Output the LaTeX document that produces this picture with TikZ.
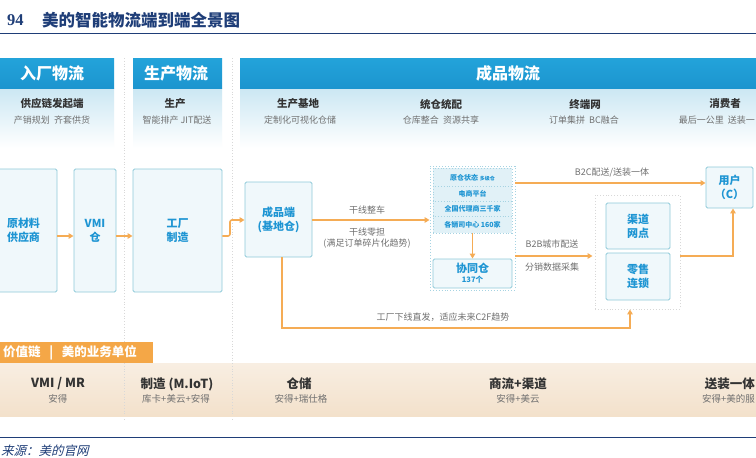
\documentclass[tikz,border=0pt]{standalone}
\usepackage{fontspec}
\setmainfont{Noto Sans CJK SC}
\newfontfamily\titleserif{Liberation Serif}
\newfontfamily\srcfont[FakeSlant=0.25]{Noto Sans CJK SC}
\usetikzlibrary{arrows.meta}
\definecolor{banner}{HTML}{23A3DA}
\definecolor{bannerdk}{HTML}{1C95CF}
\definecolor{skyl}{HTML}{CBE7F3}
\definecolor{boxline}{HTML}{8FCAD9}
\definecolor{boxfill}{HTML}{F0F8FB}
\definecolor{boxtext}{HTML}{1E95D3}
\definecolor{arr}{HTML}{F5AC55}
\definecolor{navy}{HTML}{1F3E78}
\definecolor{darktext}{HTML}{333333}
\definecolor{greytext}{HTML}{707070}
\definecolor{tabc}{HTML}{F4A747}
\definecolor{beigeA}{HTML}{F8EEE2}
\definecolor{beigeB}{HTML}{F3E1CB}
\definecolor{divider}{HTML}{D8D8D8}
\definecolor{dotline}{HTML}{A6D3E2}
\definecolor{innerfill}{HTML}{E1F1F7}
\begin{document}
\begin{tikzpicture}[x=1pt,y=-1pt,
  flowbox/.style={draw=boxline, fill=boxfill, line width=0.9pt, rounded corners=1.5pt, inner sep=0pt, align=center, text=boxtext, font=\fontsize{11}{14}\selectfont\bfseries},
  dotbox/.style={draw=dotline, line width=0.9pt, dotted, inner sep=0pt},
  flow/.style={draw=arr, line width=1.6pt, -{Triangle[length=5pt,width=5.5pt]}},
  bantext/.style={text=white, font=\fontsize{16}{18}\selectfont\bfseries, inner sep=0pt},
  headtext/.style={text=darktext, font=\fontsize{10.5}{12}\selectfont\bfseries, inner sep=0pt},
  subtext/.style={text=greytext, font=\fontsize{9}{11}\selectfont, inner sep=0pt},
  note/.style={text=greytext, font=\fontsize{9}{12}\selectfont, inner sep=0pt, align=center},
  rowtext/.style={text=boxtext, font=\fontsize{7}{8}\selectfont\bfseries, inner sep=0pt},
  vchead/.style={text=darktext, font=\fontsize{12.5}{14}\selectfont\bfseries, inner sep=0pt},
  vcsub/.style={text=greytext, font=\fontsize{9.5}{11}\selectfont, inner sep=0pt}
]
\useasboundingbox (0,0) rectangle (756,458);
\fill[white] (0,0) rectangle (756,458);

% ---------- title ----------
\node[anchor=west, inner sep=0pt, text=navy, font=\titleserif\fontsize{16.5}{17}\selectfont\bfseries] (tnum) at (7,20) {94};
\node[anchor=west, inner sep=0pt, text=navy, font=\fontsize{16.5}{17}\selectfont\bfseries] (ttl) at (42,20) {美的智能物流端到端全景图};
\draw[navy, line width=1.4pt] (0,33.5) -- (756,33.5);

% ---------- banner backgrounds ----------
\shade[top color=skyl, bottom color=white] (-5,88) rectangle (114,148);
\shade[top color=skyl, bottom color=white] (133,88) rectangle (222,148);
\shade[top color=skyl, bottom color=white] (240,88) rectangle (760,148);
\shade[top color=banner, bottom color=bannerdk] (-5,58) rectangle (114,88);
\shade[top color=banner, bottom color=bannerdk] (133,58) rectangle (222,88);
\shade[top color=banner, bottom color=bannerdk] (240,58) rectangle (760,88);
\node[bantext] (b1) at (52,73) {入厂物流};
\node[bantext] (b2) at (176,73) {生产物流};
\node[bantext] (b3) at (508,73) {成品物流};

% dividers
\draw[divider, dotted, line width=0.8pt] (124.5,58) -- (124.5,420);
\draw[divider, dotted, line width=0.8pt] (232.5,58) -- (232.5,420);

% ---------- sub headings ----------
\node[headtext] (h1) at (52,104) {供应链发起端};
\node[subtext]  (s1) at (52,120) {产销规划\ \ 齐套供货};
\node[headtext] (h2) at (175,104) {生产};
\node[subtext]  (s2) at (177,120) {智能排产 JIT配送};
\node[headtext] (h3) at (298,104) {生产基地};
\node[subtext]  (s3) at (300,120) {定制化可视化仓储};
\node[headtext] (h4) at (441,104) {统仓统配};
\node[subtext]  (s4) at (441,120) {仓库整合\ \ 资源共享};
\node[headtext] (h5) at (585,104) {终端网};
\node[subtext]  (s5) at (584,120) {订单集拼\ \ BC融合};
\node[headtext] (h6) at (725,104) {消费者};
\node[subtext, anchor=east] (s6) at (755,120) {最后一公里\ \ 送装一};

% ---------- flow boxes ----------
\node[flowbox, minimum width=67pt, minimum height=123pt] (raw) at (23.5,230.5) {原材料\\供应商};
\node[flowbox, minimum width=42pt, minimum height=123pt] (vmi) at (95,230.5) {VMI\\仓};
\node[flowbox, minimum width=89pt, minimum height=123pt] (fac) at (177.5,230.5) {工厂\\制造};
\node[flowbox, minimum width=67pt, minimum height=75pt] (fp) at (278.5,219.5) {成品端\\(基地仓)};

% cluster
\node[dotbox, minimum width=85pt, minimum height=124pt] (cluster) at (472.5,228) {};
\node[dotbox, fill=innerfill, minimum width=79pt, minimum height=65pt] (inner) at (472.5,200.5) {};
\draw[dotline, dotted, line width=0.8pt] (inner.west |- 0,186) -- (inner.east |- 0,186);
\draw[dotline, dotted, line width=0.8pt] (inner.west |- 0,201) -- (inner.east |- 0,201);
\draw[dotline, dotted, line width=0.8pt] (inner.west |- 0,216) -- (inner.east |- 0,216);
\node[rowtext] (r1) at (472.5,178) {原仓状态\ {\fontsize{5}{6}\selectfont 多级仓}};
\node[rowtext] (r2) at (472.5,193.5) {电商平台};
\node[rowtext] (r3) at (472.5,208.5) {全国代理商三千家};
\node[rowtext] (r4) at (472.5,224.5) {各销司中心\ 160家};
\node[flowbox, minimum width=79pt, minimum height=29pt, font=\fontsize{11}{12}\selectfont\bfseries] (xt) at (472.5,273.5) {协同仓\\[-2pt]{\fontsize{7.5}{8}\selectfont 137个}};

% user and channel
\node[flowbox, minimum width=47pt, minimum height=41pt] (user) at (729.5,187.5) {用户\\（C）};
\node[draw=divider, line width=0.9pt, dotted, inner sep=0pt, minimum width=85pt, minimum height=114pt] (channel) at (637.5,252) {};
\node[flowbox, minimum width=64pt, minimum height=46pt] (ch1) at (638,226) {渠道\\网点};
\node[flowbox, minimum width=64pt, minimum height=47pt] (ch2) at (638,276.5) {零售\\连锁};

% ---------- arrows ----------
\draw[flow] (raw.east |- 0,236) -- (vmi.west |- 0,236);
\draw[flow] (vmi.east |- 0,236) -- (fac.west |- 0,236);
\draw[flow, rounded corners=2pt] (fac.east |- 0,236) -- (230,236) -- (230,220) -- (fp.west |- 0,220);
\draw[flow] (fp.east |- 0,220) -- (cluster.west |- 0,220);
\draw[flow, line width=1.2pt] (inner.south) -- (xt.north);
\draw[flow] (cluster.east |- 0,183) -- (user.west |- 0,183);
\draw[flow] (cluster.east |- 0,256) -- ([xshift=-2pt]channel.west |- 0,256);
\draw[flow] (channel.east |- 0,256) -| ([xshift=3.5pt]user.south);
\draw[flow] ([xshift=3.5pt]fp.south) -- ([xshift=3.5pt]fp.south |- 0,328) -| ([xshift=-7.5pt]channel.south);

% ---------- arrow labels ----------
\node[note] (n1) at (367,210) {干线整车};
\node[note] (n2) at (367,232) {干线零担};
\node[note] (n3) at (367,244) {(满足订单碎片化趋势)};
\node[note] (n4) at (612,173) {B2C配送/送装一体};
\node[note] (n5) at (552,244) {B2B城市配送};
\node[note] (n6) at (552,267) {分销数据采集};
\node[note] (n7) at (443,317) {工厂下线直发，适应未来C2F趋势};

% ---------- value chain band ----------
\shade[top color=beigeA, bottom color=beigeB] (-5,363) rectangle (760,416);
\fill[tabc] (-5,342) rectangle (153,363);
\node[anchor=west, inner sep=0pt, text=white, font=\fontsize{12.5}{14}\selectfont\bfseries] (tab) at (3,352.5) {价值链\ \ \ |\ \ \ 美的业务单位};
\draw[divider, dotted, line width=0.8pt] (124.5,363) -- (124.5,416);
\draw[divider, dotted, line width=0.8pt] (232.5,363) -- (232.5,416);

\node[vchead] (v1) at (58,384) {VMI / MR};
\node[vcsub]  (w1) at (58,399) {安得};
\node[vchead] (v2) at (177,384) {制造 (M.IoT)};
\node[vcsub]  (w2) at (176,399) {库卡+美云+安得};
\node[vchead] (v3) at (299,384) {仓储};
\node[vcsub]  (w3) at (301,399) {安得+瑞仕格};
\node[vchead] (v4) at (518,384) {商流+渠道};
\node[vcsub]  (w4) at (518,399) {安得+美云};
\node[vchead, anchor=east] (v5) at (755,384) {送装一体};
\node[vcsub, anchor=east]  (w5) at (755,399) {安得+美的服};

% ---------- source ----------
\draw[navy, line width=1.4pt] (0,437.5) -- (756,437.5);
\node[anchor=west, inner sep=0pt, text=navy, font=\srcfont\fontsize{12.5}{13}\selectfont] (src) at (1,451) {来源：美的官网};
\end{tikzpicture}
\end{document}
